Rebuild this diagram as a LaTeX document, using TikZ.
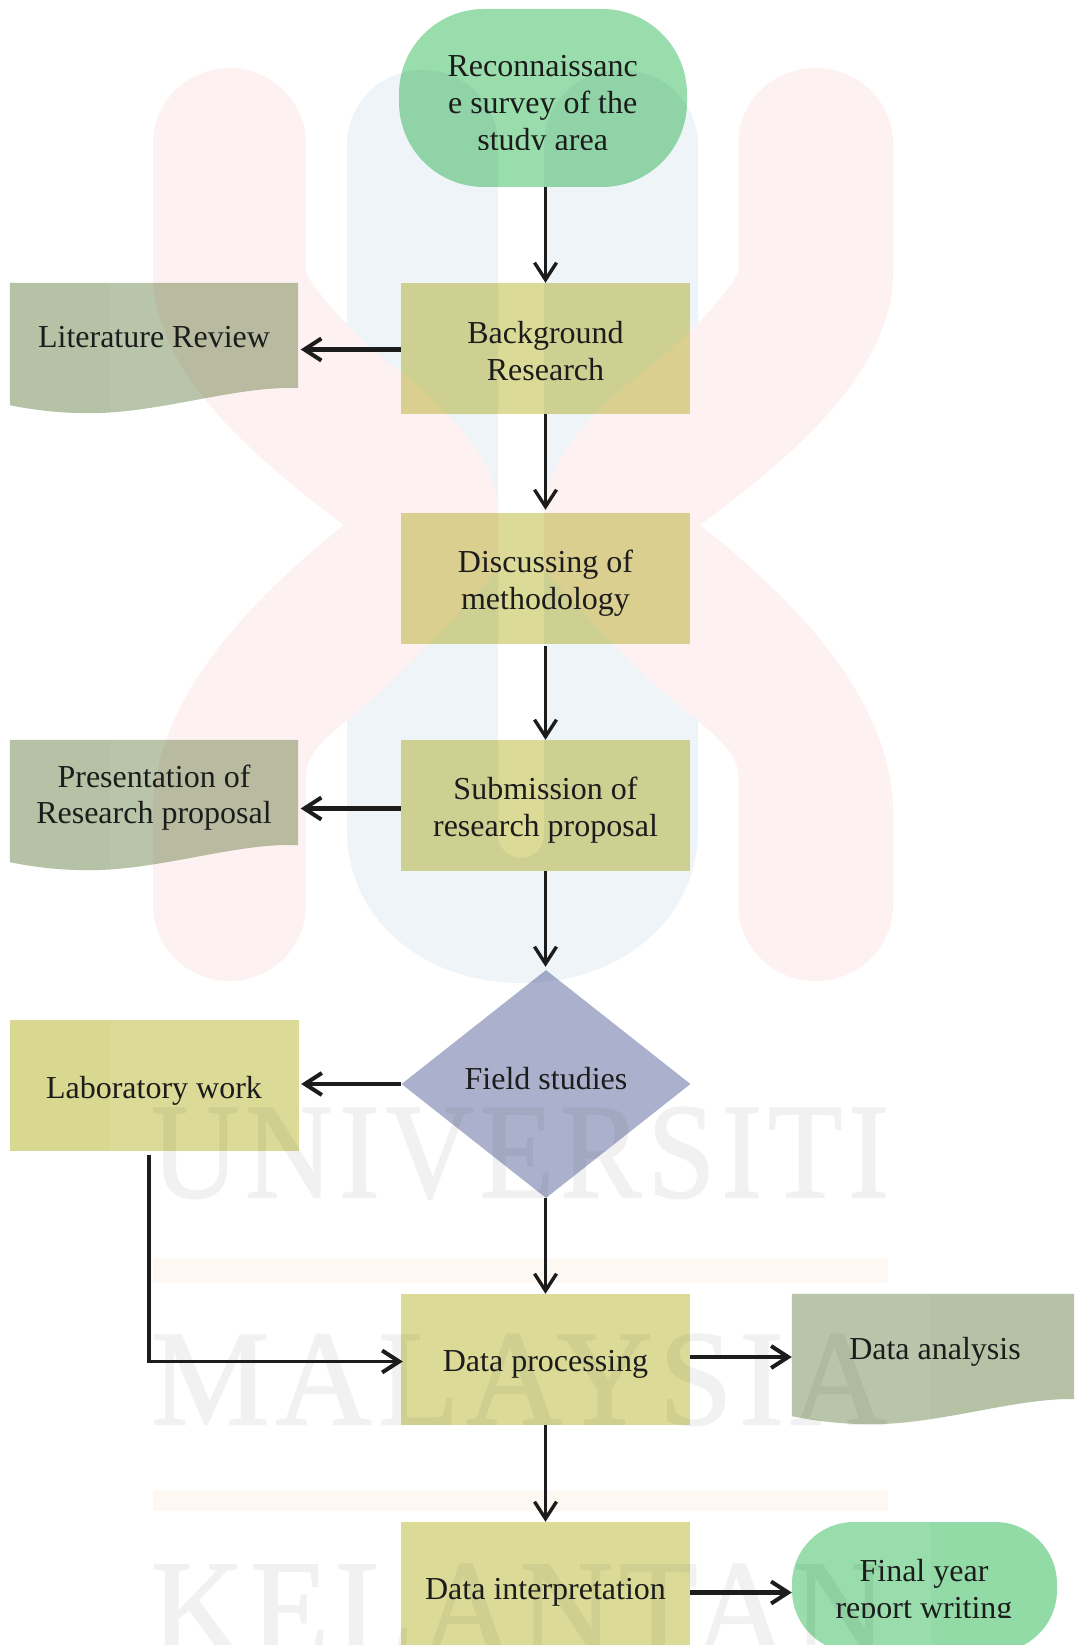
\documentclass[tikz,border=0pt]{standalone}
\usepackage{fontspec}
\usepackage{graphicx}
\setmainfont{Liberation Serif}
\usetikzlibrary{arrows.meta,shapes.geometric,calc}
\definecolor{kred}{HTML}{FEF1F1}
\definecolor{ublue}{HTML}{EFF4F9}
\definecolor{wmgrey}{HTML}{F1F1F1}
\definecolor{wmbar}{HTML}{FEF8F2}
\definecolor{boxfill}{HTML}{D9D890}
\definecolor{docfill}{HTML}{B5C2A5}
\definecolor{termfill}{HTML}{92DBA6}
\definecolor{diafill}{HTML}{A6ADC9}
\definecolor{ink}{HTML}{1C1C1C}
\newcommand{\kayhalf}{
  \fill[kred] (153,144) .. controls (153,102) and (187,68) .. (229.5,68)
    .. controls (272,68) and (306,102) .. (306,144) -- (306,273)
    .. controls (320,300) and (370,350) .. (400,372)
    .. controls (450,410) and (495,460) .. (498,507)
    -- (498,570) .. controls (480,590) and (400,680) .. (347,720)
    .. controls (325,738) and (306,755) .. (306,775) -- (306,905)
    .. controls (306,947) and (272,981) .. (229.5,981)
    .. controls (187,981) and (153,947) .. (153,905) -- (153,813)
    .. controls (153,700) and (250,600) .. (344,525)
    .. controls (250,455) and (153,370) .. (153,273) -- cycle;
}
\newcommand{\docwave}[1]{
  \fill[docfill] (#1.north west) -- (#1.north east) -- ([yshift=25pt]#1.south east)
    .. controls +(-60pt,3pt) and ($(#1.south west)+(150pt,0pt)$) .. ($(#1.south west)+(80pt,0pt)$)
    .. controls +(-30pt,0pt) and ($(#1.south west)+(25pt,3pt)$) .. ([yshift=8pt]#1.south west) -- cycle;
}
\newcommand{\wmfont}{\fontsize{133}{140}\selectfont\addfontfeature{FakeBold=1.2,LetterSpace=5}}
\tikzset{
  lbl/.style={font=\fontsize{32}{36.7}\selectfont,text=ink,align=center,inner sep=0pt},
  procbox/.style={rectangle,fill=boxfill,inner sep=0pt,minimum width=289pt,minimum height=131pt},
  docbox/.style={rectangle,inner sep=0pt,minimum width=288pt,minimum height=130pt},
  termbox/.style={rectangle,fill=termfill,inner sep=0pt},
  diabox/.style={diamond,aspect=1.265,fill=diafill,inner sep=0pt,minimum width=289pt,minimum height=228pt},
  flow/.style={draw=ink,line width=3pt,-{Straight Barb[length=17pt,width=22pt,line width=3.4pt]}},
  flowh/.style={draw=ink,line width=4.2pt,-{Straight Barb[length=17pt,width=22pt,line width=4pt]}},
  wm/.style={inner sep=0pt,anchor=north west,text=wmgrey}
}
\begin{document}
\begin{tikzpicture}[x=1pt,y=-1pt]
\useasboundingbox (0,0) rectangle (1074,1645);
\clip (0,0) rectangle (1074,1645);
\fill[white] (0,0) rectangle (1074,1645);
% watermark
\fill[ublue] (347,145) .. controls (347,103) and (381,70) .. (422.5,70)
  .. controls (464,70) and (498,103) .. (498,145) -- (498,835)
  .. controls (498,848) and (508,858) .. (521,858)
  .. controls (534,858) and (544,848) .. (544,835) -- (544,145)
  .. controls (544,103) and (578,70) .. (621,70)
  .. controls (664,70) and (698,103) .. (698,145) -- (698,830)
  .. controls (698,920) and (620,983) .. (522,983)
  .. controls (424,983) and (347,920) .. (347,830) -- cycle;
\kayhalf
\begin{scope}[xshift=1047.8pt,xscale=-1.0116]\kayhalf\end{scope}
\fill[wmbar] (153,1258) rectangle (888,1283);
\fill[wmbar] (153,1490) rectangle (888,1511);
\node[wm] (wmone) at (151,1107) {\resizebox{738pt}{90pt}{\wmfont UNIVERSITI}};
\node[wm] (wmtwo) at (151,1334) {\resizebox{735pt}{90pt}{\wmfont MALAYSIA}};
\node[wm] (wmthree) at (151,1564) {\resizebox{735pt}{90pt}{\wmfont KELANTAN}};
% shapes
\begin{scope}[blend mode=multiply]
\node[termbox,rounded corners=85pt,minimum width=288pt,minimum height=178pt] (start) at (543,98) {};
\node[procbox] (bg) at (545.5,348.5) {};
\node[procbox] (disc) at (545.5,578.5) {};
\node[procbox] (sub) at (545.5,805.5) {};
\node[diabox] (field) at (546,1084) {};
\node[procbox] (dp) at (545.5,1359.5) {};
\node[procbox] (interp) at (545.5,1587.5) {};
\node[procbox] (lab) at (154.5,1085.5) {};
\node[docbox] (lit) at (154,348) {};
\node[docbox] (pres) at (154,805) {};
\node[docbox] (da) at (936,1359) {};
\docwave{lit}
\docwave{pres}
\docwave{da}
\node[termbox,rounded corners=62pt,minimum width=265pt,minimum height=130pt] (final) at (924.5,1587) {};
\end{scope}
\fill[white,opacity=.06] (110,0) rectangle (931,1645);
% texts
\begin{scope}
\clip (0,0) rectangle (1074,150);
\node[lbl] (startt) at (542.7,106.5) {Reconnaissanc\\e survey of the\\study area};
\end{scope}
\begin{scope}
\clip (0,0) rectangle (1074,1617);
\node[lbl] (finalt) at (924,1592) {Final year\\report writing};
\end{scope}
\node[lbl] (bgt) at (545.5,351) {Background\\Research};
\node[lbl] (disct) at (545.5,583) {Discussing of\\methodology};
\node[lbl] (subt) at (545.5,810) {Submission of\\research proposal};
\node[lbl] (dpt) at (545.5,1364.5) {Data processing};
\node[lbl] (interpt) at (545.5,1592.5) {Data interpretation};
\node[lbl] (labt) at (154,1091) {Laboratory work};
\node[lbl] (litt) at (154,337) {Literature Review};
\node[lbl] (prest) at (154,797.5) {Presentation of\\Research proposal};
\node[lbl] (fieldt) at (546,1079) {Field studies};
\node[lbl] (dat) at (935,1352) {Data analysis};
% connectors
\draw[flow] (bg.north |- start.south) -- (bg.north);
\draw[flowh,shorten >=2.5pt] ([yshift=-1pt]bg.west) -- ([yshift=-1pt]bg.west -| lit.east);
\draw[flow,shorten >=3pt] (bg.south) -- (disc.north);
\draw[flow,shorten <=2pt] (disc.south) -- (sub.north);
\draw[flowh,shorten >=2.5pt] ([yshift=-3pt]sub.west) -- ([yshift=-3pt]sub.west -| pres.east);
\draw[flow,shorten >=3pt] (sub.south) -- (sub.south |- field.north);
\draw[flowh,shorten >=2pt] (field.west) -- (field.west -| lab.east);
\draw[flow] (field.south -| dp.north) -- (dp.north);
\draw[draw=ink,line width=3.4pt,shorten >=-2pt,-{Straight Barb[length=17pt,width=22pt,line width=4pt]}] ([xshift=-5.5pt,yshift=-4pt]lab.south) |- ([yshift=-2pt]dp.west);
\draw[flowh] ([yshift=2.5pt]dp.east) -- ([yshift=2.5pt]dp.east -| da.west);
\draw[flow] (dp.south) -- (interp.north);
\draw[flowh] ([yshift=-5pt]interp.east) -- ([yshift=-5pt]interp.east -| final.west);
\end{tikzpicture}
\end{document}
